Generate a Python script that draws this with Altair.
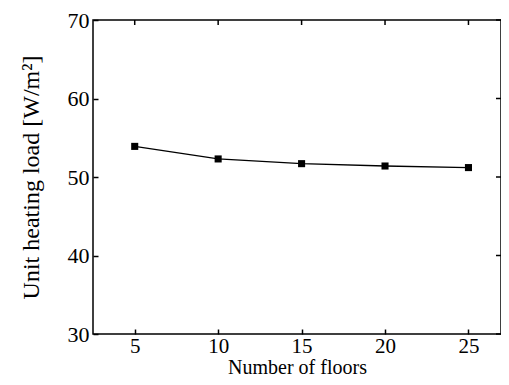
import altair as alt
import pandas as pd

floors = [5, 10, 15, 20, 25]
load = [53.9, 52.3, 51.7, 51.4, 51.2]
x_ticks = [5, 10, 15, 20, 25]
y_ticks = [30, 40, 50, 60, 70]

df = pd.DataFrame({"floors": floors, "load": load})
xt = pd.DataFrame({"xt": x_ticks})
yt = pd.DataFrame({"yt": y_ticks})

W, H = 408, 314
FONT = "Liberation Serif"
xscale = alt.Scale(domain=[2.5, 26.95], nice=False, zero=False)
yscale = alt.Scale(domain=[30, 70], nice=False, zero=False)

common_axis = dict(
    domain=False, tickColor="black", tickWidth=1.5,
    tickSize=5, offset=-5, grid=False, labelFont=FONT, labelColor="black",
    titleFont=FONT, titleColor="black", titleFontWeight="normal",
)

base = alt.Chart(df)
line = base.mark_line(color="black", strokeWidth=1.3).encode(
    x=alt.X("floors:Q", scale=xscale,
            axis=alt.Axis(values=x_ticks, title="Number of floors", labelFontSize=21,
                          titleFontSize=20, labelPadding=1, titlePadding=1,
                          orient="bottom", **common_axis)),
    y=alt.Y("load:Q", scale=yscale,
            axis=alt.Axis(values=y_ticks, title="Unit heating load [W/m²]", labelFontSize=22,
                          titleFontSize=24, labelPadding=4, titlePadding=24,
                          orient="left", **common_axis)),
)
pts = base.mark_square(color="black", size=50, opacity=1).encode(
    x=alt.X("floors:Q", scale=xscale),
    y=alt.Y("load:Q", scale=yscale),
)
top_ticks = alt.Chart(xt).mark_rule(color="black", strokeWidth=1.5).encode(
    x=alt.X("xt:Q", scale=xscale),
    y=alt.value(0), y2=alt.value(5),
)
right_ticks = alt.Chart(yt).mark_rule(color="black", strokeWidth=1.5).encode(
    y=alt.Y("yt:Q", scale=yscale),
    x=alt.value(W - 5), x2=alt.value(W),
)

chart = alt.layer(line, pts, top_ticks, right_ticks).properties(
    width=W, height=H,
    autosize=alt.AutoSizeParams(type="none"),
    padding={"left": 85, "top": 12, "right": 0, "bottom": 43},
).configure_view(stroke="black", strokeWidth=1.5)

chart.save("out.html", embed_options={"renderer": "svg", "actions": False})
